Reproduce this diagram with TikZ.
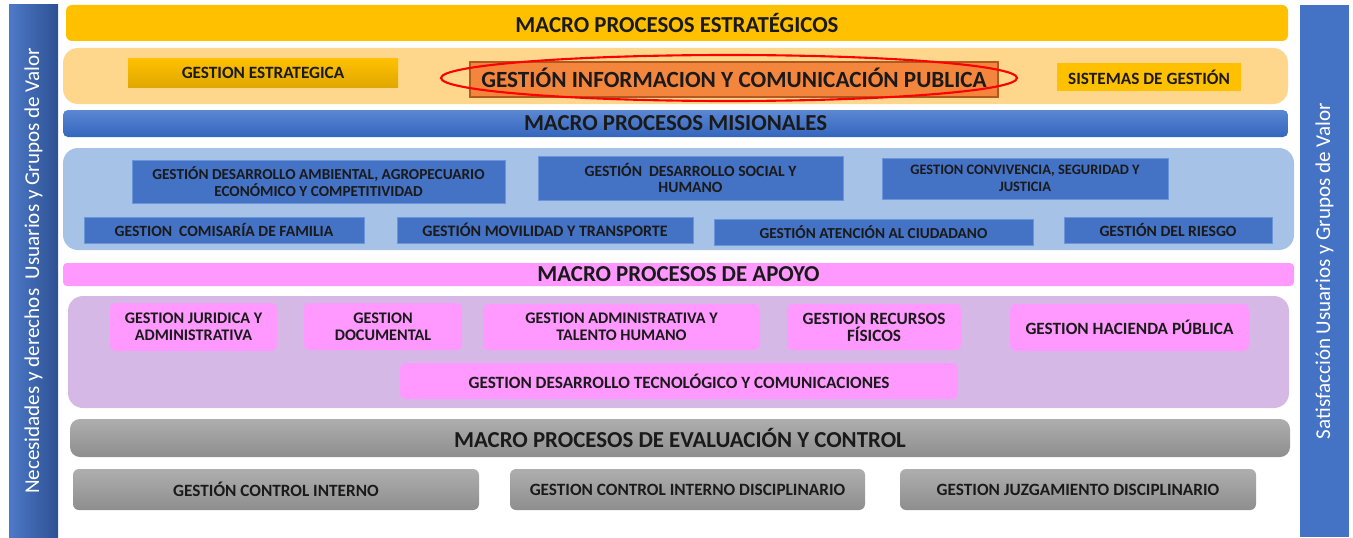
\documentclass[tikz,border=0pt]{standalone}
\usepackage{fontspec}
\setmainfont{Carlito}
\usetikzlibrary{shapes.geometric}

\definecolor{barBlue}{HTML}{4472C4}
\definecolor{barDark}{HTML}{2D5193}
\definecolor{estYellow}{HTML}{FFC000}
\definecolor{estDark}{HTML}{E0A800}
\definecolor{estLight}{HTML}{FFD78C}
\definecolor{infoOrange}{HTML}{F4853C}
\definecolor{infoBorder}{HTML}{B05A20}
\definecolor{misTop}{HTML}{5B87D3}
\definecolor{misBottom}{HTML}{3466BD}
\definecolor{misLight}{HTML}{A6C3E7}
\definecolor{misBox}{HTML}{4472C4}
\definecolor{misBorder}{HTML}{6A95D8}
\definecolor{apoPink}{HTML}{FF99FF}
\definecolor{apoLight}{HTML}{D5B8E6}
\definecolor{evalTop}{HTML}{AEAEAE}
\definecolor{evalBottom}{HTML}{8E8E8E}
\definecolor{textDark}{HTML}{1A1A1A}

\begin{document}
\begin{tikzpicture}[
  sized/.style 2 args={minimum width=#1cm, minimum height=#2cm, inner sep=0pt, align=center, text=textDark},
  headfont/.style={font=\fontsize{13}{15}\selectfont\bfseries},
  itemfont/.style={font=\fontsize{#1}{9.6}\selectfont\bfseries},
  itemfont/.default=9.8,
  sidetext/.style={text=white, rotate=90, font=\fontsize{12}{14}\selectfont},
  panel/.style={rounded corners=0.3cm},
  estbox/.style={top color=estYellow, bottom color=estDark, itemfont},
  misbox/.style={fill=misBox, draw=misBorder, line width=0.4pt, itemfont=8.9},
  apobox/.style={fill=apoPink, rounded corners=0.12cm, itemfont=9.2},
  evalbox/.style={top color=evalTop, bottom color=evalBottom, rounded corners=0.12cm, itemfont}
]
  \useasboundingbox (0,0) rectangle (27.06,-10.74);

  % Barras laterales
  \node[sized={0.98}{10.64}, left color=barBlue!95, right color=barDark] (leftbar) at (0.67,-5.42) {};
  \node[sidetext] (leftlabel) at (leftbar) {Necesidades y derechos\ \ Usuarios y Grupos de Valor};
  \node[sized={0.98}{10.64}, fill=barBlue] (rightbar) at (26.49,-5.42) {};
  \node[sidetext] (rightlabel) at (rightbar) {Satisfacción Usuarios y Grupos de Valor};

  % Estrategicos
  \node[sized={24.44}{0.72}, fill=estYellow, rounded corners=0.12cm, headfont] (esthead) at (13.54,-0.46)
    {MACRO PROCESOS ESTRATÉGICOS};
  \node[sized={24.50}{1.12}, fill=estLight, panel] (estpanel) at (13.51,-1.52) {};
  \node[sized={5.40}{0.56}, estbox] (estrategica) at (5.26,-1.46) {GESTION ESTRATEGICA};
  \node[sized={10.56}{0.70}, fill=infoOrange, draw=infoBorder, line width=0.8pt, text height=8.8pt, text depth=0pt,
        font=\fontsize{13.2}{14}\selectfont\bfseries] (informacion) at (14.68,-1.59)
    {GESTIÓN INFORMACION Y COMUNICACIÓN PUBLICA};
  \node[ellipse, draw=red, line width=1.2pt, minimum width=11.52cm, minimum height=0.92cm] (marca) at (14.58,-1.56) {};
  \node[sized={3.68}{0.56}, fill=estYellow, itemfont] (sistemas) at (22.98,-1.54) {SISTEMAS DE GESTIÓN};

  % Misionales
  \node[sized={24.50}{0.54}, top color=misTop, bottom color=misBottom, rounded corners=0.1cm, headfont] (mishead) at (13.51,-2.47)
    {MACRO PROCESOS MISIONALES};
  \node[sized={24.62}{2.04}, fill=misLight, panel] (mispanel) at (13.57,-3.98) {};
  \node[sized={7.46}{0.86}, misbox, itemfont=8.7] (ambiental) at (6.37,-3.63)
    {GESTIÓN DESARROLLO AMBIENTAL, AGROPECUARIO\\ECONÓMICO Y COMPETITIVIDAD};
  \node[sized={6.10}{0.88}, misbox] (social) at (13.81,-3.56)
    {GESTIÓN\ \ DESARROLLO SOCIAL Y\\HUMANO};
  \node[sized={5.72}{0.82}, misbox, itemfont=8.2] (convivencia) at (20.50,-3.57)
    {GESTION CONVIVENCIA, SEGURIDAD Y\\JUSTICIA};
  \node[sized={5.60}{0.52}, misbox] (comisaria) at (4.48,-4.60) {GESTION\ \ COMISARÍA DE FAMILIA};
  \node[sized={5.92}{0.52}, misbox, itemfont=9.1] (movilidad) at (10.90,-4.60) {GESTIÓN MOVILIDAD Y TRANSPORTE};
  \node[sized={6.38}{0.52}, misbox, itemfont=8.7] (atencion) at (17.47,-4.64) {GESTIÓN ATENCIÓN AL CIUDADANO};
  \node[sized={4.16}{0.52}, misbox] (riesgo) at (23.36,-4.60) {GESTIÓN DEL RIESGO};

  % Apoyo
  \node[sized={24.62}{0.46}, fill=apoPink, rounded corners=0.08cm, headfont] (apohead) at (13.57,-5.49)
    {MACRO PROCESOS DE APOYO};
  \node[sized={24.42}{2.24}, fill=apoLight, panel] (apopanel) at (13.57,-7.04) {};
  \node[sized={3.34}{0.96}, apobox] (juridica) at (3.87,-6.54) {GESTION JURIDICA Y\\ADMINISTRATIVA};
  \node[sized={3.16}{0.94}, apobox] (documental) at (7.66,-6.53) {GESTION\\DOCUMENTAL};
  \node[sized={5.54}{0.92}, apobox] (talento) at (12.43,-6.54) {GESTION ADMINISTRATIVA Y\\TALENTO HUMANO};
  \node[sized={3.48}{0.92}, apobox, itemfont] (recursos) at (17.48,-6.54) {GESTION RECURSOS\\FÍSICOS};
  \node[sized={4.78}{0.94}, apobox, itemfont] (hacienda) at (22.59,-6.55) {GESTION HACIENDA PÚBLICA};
  \node[sized={11.16}{0.72}, apobox, itemfont] (tecnologico) at (13.58,-7.62) {GESTION DESARROLLO TECNOLÓGICO Y COMUNICACIONES};

  % Evaluacion y control
  \node[sized={24.40}{0.76}, top color=evalTop, bottom color=evalBottom, rounded corners=0.2cm, headfont] (evalhead) at (13.60,-8.76)
    {MACRO PROCESOS DE EVALUACIÓN Y CONTROL};
  \node[sized={8.12}{0.82}, evalbox] (interno) at (5.52,-9.79) {GESTIÓN CONTROL INTERNO};
  \node[sized={7.10}{0.82}, evalbox] (disciplinario) at (13.75,-9.79) {GESTION CONTROL INTERNO DISCIPLINARIO};
  \node[sized={7.12}{0.82}, evalbox] (juzgamiento) at (21.56,-9.79) {GESTION JUZGAMIENTO DISCIPLINARIO};
\end{tikzpicture}
\end{document}
